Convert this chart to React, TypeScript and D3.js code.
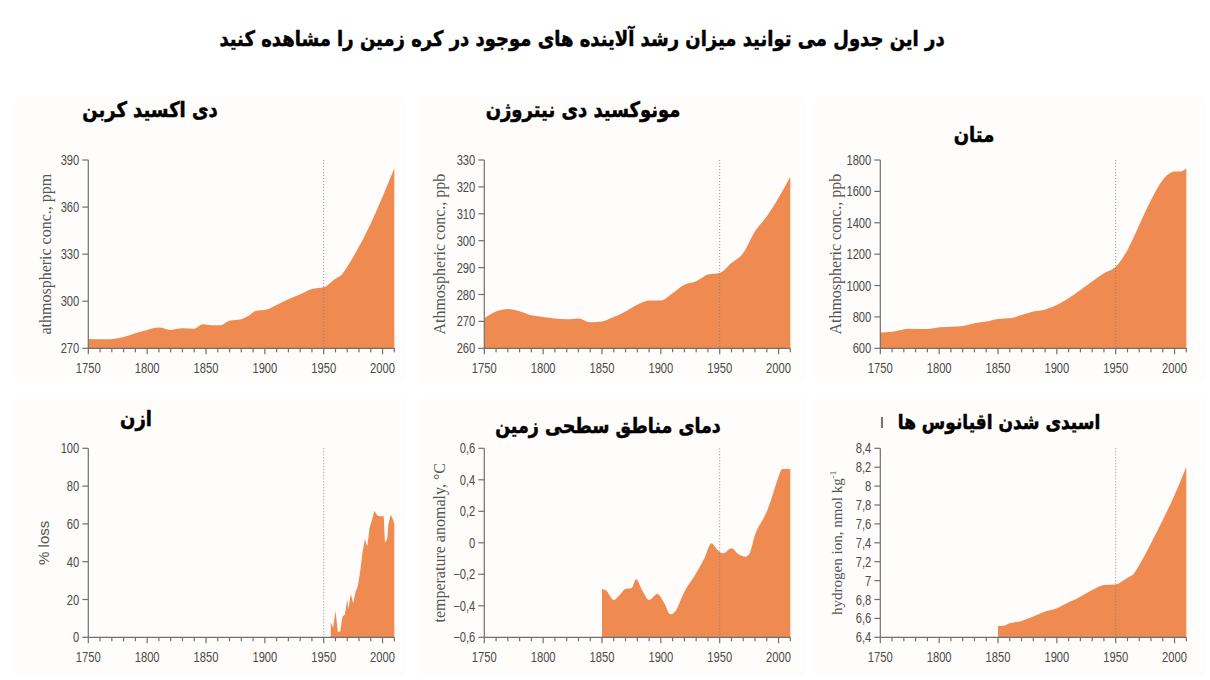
import React from "react";
import * as d3 from "d3";

const co2Years = [1750, 1765, 1780, 1790, 1800, 1810, 1820, 1830, 1840, 1847, 1855, 1862, 1870, 1880, 1885, 1893, 1900, 1910, 1920, 1930, 1940, 1950, 1960, 1965, 1970, 1980, 1990, 2000, 2010];
const co2Values = [275.9, 275.7, 277.2, 279.6, 281.7, 283.2, 281.7, 282.7, 282.5, 285.3, 284.7, 284.7, 287.6, 288.5, 290.2, 294, 294.4, 297.6, 301.2, 304.4, 307.8, 308.9, 314.4, 316.7, 322, 334.8, 349.6, 366.6, 384.7];

const n2oYears = [1750, 1760, 1770, 1780, 1790, 1800, 1810, 1820, 1830, 1840, 1850, 1860, 1870, 1880, 1890, 1900, 1910, 1920, 1930, 1940, 1950, 1960, 1970, 1980, 1990, 2000, 2010];
const n2oValues = [271.2, 273.7, 274.6, 273.8, 272.3, 271.6, 271.1, 270.8, 271.1, 269.7, 270, 271.6, 273.7, 276.2, 277.8, 277.8, 280.5, 283.6, 284.9, 287.4, 288, 291.7, 295.4, 303.5, 309.1, 316, 323.8];

const ch4Years = [1750, 1760, 1775, 1790, 1800, 1810, 1820, 1830, 1840, 1850, 1860, 1870, 1880, 1890, 1900, 1910, 1920, 1930, 1940, 1950, 1960, 1970, 1980, 1990, 2000, 2005, 2010];
const ch4Values = [700, 706, 725, 723, 734, 738, 742, 759, 770, 787, 791, 812, 834, 848, 876, 919, 972, 1025, 1078, 1120, 1227, 1386, 1545, 1673, 1726, 1726, 1747];

const ozoneYears = [1956, 1958, 1960, 1962, 1964, 1966, 1968, 1970, 1971, 1973, 1975, 1977, 1979, 1981, 1983, 1985, 1987, 1989, 1991, 1993, 1995, 1997, 1999, 2001, 2002, 2004, 2005, 2007, 2009, 2010];
const ozoneValues = [8, 5, 14, 3, 3, 11, 12, 20, 15, 23, 18, 24, 27, 35, 45, 52, 48, 58, 62, 67, 65, 64, 64, 64, 50, 52, 60, 65, 62, 60];

const tempYears = [1850, 1853, 1860, 1865, 1870, 1875, 1879, 1884, 1890, 1897, 1903, 1908, 1912, 1920, 1930, 1937, 1943, 1948, 1953, 1960, 1966, 1972, 1975, 1980, 1990, 1995, 2000, 2003, 2010];
const tempValues = [-0.295, -0.3, -0.363, -0.331, -0.293, -0.289, -0.232, -0.3, -0.363, -0.325, -0.384, -0.454, -0.437, -0.31, -0.194, -0.098, -0.003, -0.045, -0.067, -0.035, -0.073, -0.088, -0.073, 0.05, 0.198, 0.304, 0.42, 0.469, 0.469];

const oceanYears = [1850, 1855, 1860, 1870, 1880, 1890, 1900, 1910, 1920, 1930, 1940, 1950, 1960, 1965, 1970, 1980, 1990, 2000, 2010];
const oceanValues = [6.52, 6.523, 6.548, 6.573, 6.619, 6.672, 6.707, 6.77, 6.83, 6.9, 6.954, 6.96, 7.03, 7.067, 7.165, 7.395, 7.642, 7.906, 8.206];

const xTickLabels = [1750, 1800, 1850, 1900, 1950, 2000];
const co2Ticks = [270, 300, 330, 360, 390];
const n2oTicks = [260, 270, 280, 290, 300, 310, 320, 330];
const ch4Ticks = [600, 800, 1000, 1200, 1400, 1600, 1800];
const ozoneTicks = [0, 20, 40, 60, 80, 100];
const tempTicks = [-0.6, -0.4, -0.2, 0, 0.2, 0.4, 0.6];
const oceanTicks = [6.4, 6.6, 6.8, 7, 7.2, 7.4, 7.6, 7.8, 8, 8.2, 8.4];

const mainTitle = "در این جدول می توانید میزان رشد آلاینده های موجود در کره زمین را مشاهده کنید";

const FILL = "#ef8a50";
const AXIS = "#707070";
const TICKTXT = "#4a4a4a";
const SANS = "'Liberation Sans', Arial, sans-serif";
const SERIF = "'Liberation Serif', 'DejaVu Serif', serif";
const ARABIC = "'DejaVu Sans', 'Noto Sans', sans-serif";
const SQUEEZE = 0.8;

const fmtComma = (v: number) => {
  const s = Math.abs(v) < 1e-9 ? "0" : d3.format("~g")(+v.toFixed(2));
  return s.replace(".", ",");
};

function Heading(props: { x: number; y: number; size: number; text: string }) {
  return (
    <text
      transform={`translate(${props.x},${props.y}) scale(1,1.18)`}
      dy="0.35em"
      textAnchor="middle"
      fontFamily={ARABIC}
      fontWeight="bold"
      fontSize={props.size}
      fill="#000"
      stroke="#000"
      strokeWidth={0.45}
    >
      {props.text}
    </text>
  );
}

type PanelProps = {
  axisX: number;
  top: number;
  bottom: number;
  domain: [number, number];
  ticks: number[];
  fmt: (v: number) => string;
  years: number[];
  values: number[];
  curve: any;
  label: React.ReactNode;
  labelFont: string;
  labelSize: number;
  labelX: number;
  title: string;
  titleX: number;
  titleY: number;
  titleSize: number;
};

function Panel(p: PanelProps) {
  const x = d3.scaleLinear().domain([1750, 2010]).range([p.axisX, p.axisX + 260 * 1.177]);
  const y = d3.scaleLinear().domain(p.domain).range([p.bottom, p.top]);
  const data = p.years.map((yr, i) => ({ yr, v: p.values[i] }));
  const area = d3
    .area<{ yr: number; v: number }>()
    .x((d) => x(d.yr))
    .y0(p.bottom)
    .y1((d) => y(d.v))
    .curve(p.curve);
  const minor = d3.range(1750, 2011, 10);
  return (
    <g>
      <path d={area(data) || ""} fill={FILL} />
      <line x1={x(1950)} x2={x(1950)} y1={p.top} y2={p.bottom} stroke="#7a7a7a" strokeWidth={1} strokeDasharray="1,2" opacity={0.85} />
      <line x1={p.axisX} x2={p.axisX} y1={p.top} y2={p.bottom} stroke={AXIS} strokeWidth={1.2} />
      {p.ticks.map((t) => (
        <g key={t}>
          <line x1={p.axisX - 6} x2={p.axisX} y1={y(t)} y2={y(t)} stroke={AXIS} strokeWidth={1.2} />
          <text
            transform={`translate(${p.axisX - 9},${y(t)}) scale(${SQUEEZE},1)`}
            dy="0.36em"
            textAnchor="end"
            fontFamily={SANS}
            fontSize={14}
            fill={TICKTXT}
          >
            {p.fmt(t)}
          </text>
        </g>
      ))}
      <line x1={p.axisX} x2={x(2010)} y1={p.bottom} y2={p.bottom} stroke={AXIS} strokeWidth={1.2} />
      {minor.map((m) => (
        <line key={m} x1={x(m)} x2={x(m)} y1={p.bottom} y2={p.bottom + (m % 50 === 0 ? 6 : 4)} stroke={AXIS} strokeWidth={1.2} />
      ))}
      {xTickLabels.map((t) => (
        <text
          key={t}
          transform={`translate(${x(t)},${p.bottom + 25}) scale(${SQUEEZE},1)`}
          textAnchor="middle"
          fontFamily={SANS}
          fontSize={14}
          fill={TICKTXT}
        >
          {t}
        </text>
      ))}
      <text
        transform={`translate(${p.labelX},${(p.top + p.bottom) / 2}) rotate(-90)`}
        textAnchor="middle"
        dy="0.35em"
        fontFamily={p.labelFont}
        fontSize={p.labelSize}
        fill="#555"
      >
        {p.label}
      </text>
      <Heading x={p.titleX} y={p.titleY} size={p.titleSize} text={p.title} />
    </g>
  );
}

export default function App() {
  const row1Top = 160;
  const row1Bottom = 348.3;
  const row2Top = 448.3;
  const row2Bottom = 637.3;
  return (
    <svg width={1210} height={680} style={{ position: "absolute", left: 0, top: 0, background: "#fff" }}>
      <rect x={0} y={0} width={1210} height={680} fill="#fff" />
      {[
        [15, 97, 390, 285],
        [420, 97, 385, 285],
        [815, 97, 390, 285],
        [15, 398, 390, 278],
        [420, 398, 385, 278],
        [815, 398, 390, 278],
      ].map(([bx, by, bw, bh], i) => (
        <rect key={i} x={bx} y={by} width={bw} height={bh} fill="#fefdfb" />
      ))}
      <Heading x={582} y={39} size={18} text={mainTitle} />

      <Panel axisX={88.3} top={row1Top} bottom={row1Bottom} domain={[270, 390]} ticks={co2Ticks} fmt={(v) => String(v)}
        years={co2Years} values={co2Values} curve={d3.curveMonotoneX}
        label="athmospheric conc., ppm" labelFont={SERIF} labelSize={16} labelX={45}
        title="دی اکسید کربن" titleX={150} titleY={110} titleSize={18} />

      <Panel axisX={484.3} top={row1Top} bottom={row1Bottom} domain={[260, 330]} ticks={n2oTicks} fmt={(v) => String(v)}
        years={n2oYears} values={n2oValues} curve={d3.curveMonotoneX}
        label="Athmospheric conc., ppb" labelFont={SERIF} labelSize={16} labelX={439}
        title="مونوکسید دی نیتروژن" titleX={583} titleY={110} titleSize={18} />

      <Panel axisX={880.3} top={row1Top} bottom={row1Bottom} domain={[600, 1800]} ticks={ch4Ticks} fmt={(v) => String(v)}
        years={ch4Years} values={ch4Values} curve={d3.curveMonotoneX}
        label="Athmospheric conc., ppb" labelFont={SERIF} labelSize={16} labelX={835}
        title="متان" titleX={974} titleY={135} titleSize={18} />

      <Panel axisX={88.3} top={row2Top} bottom={row2Bottom} domain={[0, 100]} ticks={ozoneTicks} fmt={(v) => String(v)}
        years={ozoneYears} values={ozoneValues} curve={d3.curveLinear}
        label="% loss" labelFont={SANS} labelSize={15} labelX={44}
        title="ازن" titleX={136} titleY={419} titleSize={18} />

      <Panel axisX={484.3} top={row2Top} bottom={row2Bottom} domain={[-0.6, 0.6]} ticks={tempTicks} fmt={fmtComma}
        years={tempYears} values={tempValues} curve={d3.curveMonotoneX}
        label="temperature anomaly, °C" labelFont={SERIF} labelSize={16} labelX={439}
        title="دمای مناطق سطحی زمین" titleX={608} titleY={426} titleSize={17.5} />

      <Panel axisX={880.3} top={row2Top} bottom={row2Bottom} domain={[6.4, 8.4]} ticks={oceanTicks} fmt={fmtComma}
        years={oceanYears} values={oceanValues} curve={d3.curveMonotoneX}
        label={<>hydrogen ion, nmol kg<tspan dy="-6" fontSize={9}>-1</tspan></>} labelFont={SERIF} labelSize={15} labelX={837}
        title="اسیدی شدن اقیانوس ها" titleX={999} titleY={422} titleSize={17} />
      <line x1={882} x2={882} y1={417} y2={428} stroke="#444" strokeWidth={1.5} />
    </svg>
  );
}
